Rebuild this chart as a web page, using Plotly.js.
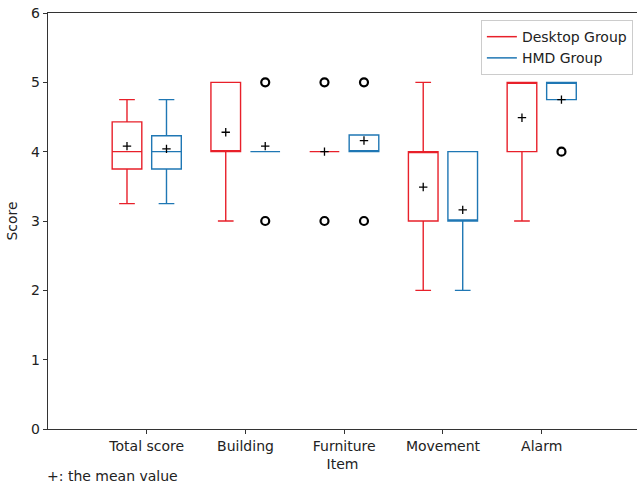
<!DOCTYPE html>
<html><head><meta charset="utf-8">
<script src="https://cdn.plot.ly/plotly-3.0.1.min.js"></script>
<style>html,body{margin:0;padding:0;background:#fff}</style>
</head><body>
<div id="chart" style="width:637px;height:490px"></div>
<script>
const categories = ["Total score", "Building", "Furniture", "Movement", "Alarm"];
const tickPositions = [1, 2, 3, 4, 5];

// Desktop group box statistics
const desktopLower  = [3.25, 3.0, 4.0, 2.0, 3.0];
const desktopQ1     = [3.75, 4.0, 4.0, 3.0, 4.0];
const desktopMedian = [4.0, 4.0, 4.0, 4.0, 5.0];
const desktopQ3     = [4.43, 5.0, 4.0, 4.0, 5.0];
const desktopUpper  = [4.75, 5.0, 4.0, 5.0, 5.0];
const desktopMean   = [4.08, 4.28, 4.0, 3.49, 4.49];
const desktopOutCat = [3, 3];
const desktopOutVal = [5, 3];

// HMD group box statistics
const hmdLower  = [3.25, 4.0, 4.0, 2.0, 4.75];
const hmdQ1     = [3.75, 4.0, 4.0, 3.0, 4.75];
const hmdMedian = [4.0, 4.0, 4.0, 3.0, 5.0];
const hmdQ3     = [4.23, 4.0, 4.24, 4.0, 5.0];
const hmdUpper  = [4.75, 4.0, 4.24, 4.0, 5.0];
const hmdMean   = [4.04, 4.08, 4.16, 3.16, 4.75];
const hmdOutCat = [2, 2, 3, 3, 5];
const hmdOutVal = [5, 3, 5, 3, 4];

const RED = '#e8202a', BLUE = '#1f77b4';
const OFF = 0.2, BW = 0.3;

function boxTrace(offset, color, lo, q1, med, q3, hi) {
  return {
    type: 'box', x: tickPositions.map(p => p + offset),
    lowerfence: lo, q1: q1, median: med, q3: q3, upperfence: hi,
    width: BW, whiskerwidth: 0.53,
    line: {color: color, width: 1.4}, fillcolor: 'rgba(0,0,0,0)',
    showlegend: false, hoverinfo: 'skip', boxpoints: false
  };
}

const traces = [
  boxTrace(-OFF, RED, desktopLower, desktopQ1, desktopMedian, desktopQ3, desktopUpper),
  boxTrace(OFF, BLUE, hmdLower, hmdQ1, hmdMedian, hmdQ3, hmdUpper),
  {type: 'scatter', mode: 'markers', x: desktopOutCat.map(c => c - OFF), y: desktopOutVal,
   marker: {symbol: 'circle-open', size: 8, color: 'black', line: {width: 2.2, color: 'black'}}, showlegend: false},
  {type: 'scatter', mode: 'markers', x: hmdOutCat.map(c => c + OFF), y: hmdOutVal,
   marker: {symbol: 'circle-open', size: 8, color: 'black', line: {width: 2.2, color: 'black'}}, showlegend: false},
  {type: 'scatter', mode: 'markers', x: tickPositions.map(p => p - OFF), y: desktopMean,
   marker: {symbol: 'cross-thin-open', size: 6, color: 'black', line: {width: 1.3, color: 'black'}}, showlegend: false},
  {type: 'scatter', mode: 'markers', x: tickPositions.map(p => p + OFF), y: hmdMean,
   marker: {symbol: 'cross-thin-open', size: 6, color: 'black', line: {width: 1.3, color: 'black'}}, showlegend: false},
  {type: 'scatter', mode: 'lines', x: [null], y: [null], name: 'Desktop Group', line: {color: RED, width: 1.5}},
  {type: 'scatter', mode: 'lines', x: [null], y: [null], name: 'HMD Group', line: {color: BLUE, width: 1.5}}
];

const layout = {
  width: 637, height: 490,
  margin: {l: 48, r: 0, t: 13, b: 61},
  paper_bgcolor: '#fff', plot_bgcolor: '#fff',
  font: {family: 'DejaVu Sans', size: 14, color: '#222'},
  xaxis: {
    range: [0, 5.965], tickvals: tickPositions, ticktext: categories,
    showgrid: false, zeroline: false, showline: true, linecolor: '#333', linewidth: 1.2,
    mirror: true, ticks: 'outside', ticklen: 4, tickcolor: '#333',
    title: {text: 'Item', standoff: 6, font: {size: 14}}
  },
  yaxis: {
    range: [0, 6], dtick: 1, showgrid: false, zeroline: false,
    showline: true, linecolor: '#333', linewidth: 1.2,
    ticks: 'outside', ticklen: 4, tickcolor: '#333',
    title: {text: 'Score', standoff: 10, font: {size: 14}}
  },
  legend: {
    x: 0.993, xanchor: 'right', y: 0.983, yanchor: 'top',
    bordercolor: '#ccc', borderwidth: 1, bgcolor: 'rgba(255,255,255,0.8)',
    font: {size: 14}, itemwidth: 30, tracegroupgap: 0
  },
  annotations: [{
    text: '+: the mean value', xref: 'paper', yref: 'paper', x: -0.005, y: -0.113,
    xanchor: 'left', yanchor: 'middle', showarrow: false, font: {size: 14}
  }]
};

Plotly.newPlot('chart', traces, layout, {displayModeBar: false, staticPlot: true});
</script>
</body></html>
